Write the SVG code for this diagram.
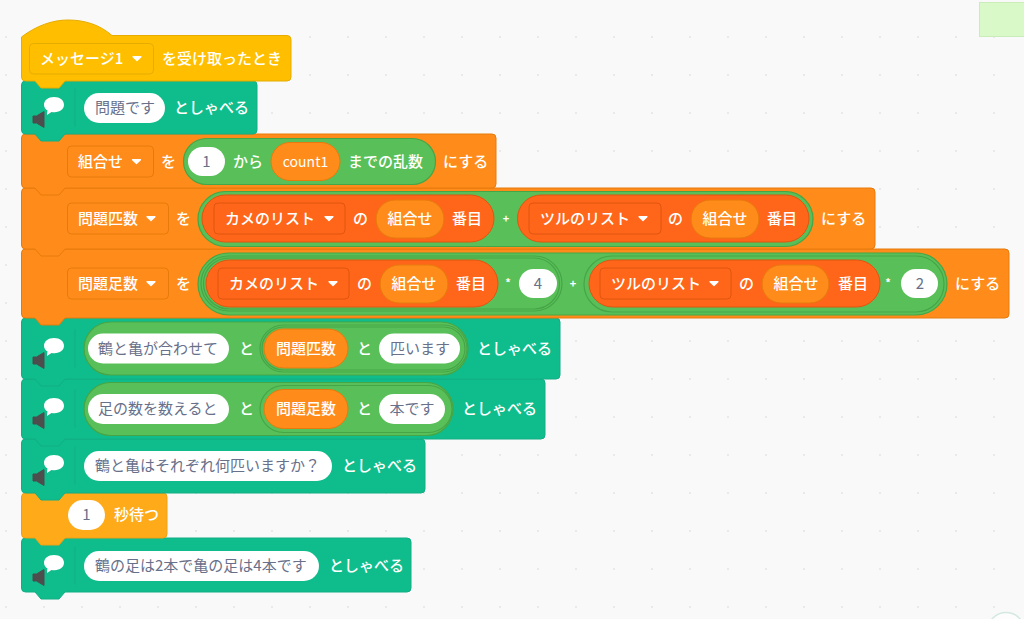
<svg xmlns="http://www.w3.org/2000/svg" width="1024" height="619" viewBox="0 0 1024 619">
<style>
text{font-family:"Noto Sans CJK JP","Noto Sans",sans-serif;font-size:15px;font-weight:500;fill:#fff}
text.g{fill:#68708a;font-weight:400}
text.m{text-anchor:middle}
text.s{font-size:11px;font-weight:700}
.pill{fill:#fff}
.hat{fill:#ffbf00;stroke:#e6ac00}
.say{fill:#0fbd8c;stroke:#12ad84}
.set{fill:#ff8c1a;stroke:#e67a0c}
.wait{fill:#ffab19;stroke:#eda016}
.dh{fill:#ffbf00;stroke:#e6ac00}
.ds{fill:#ff8c1a;stroke:#e67a0c}
.dl{fill:#ff661a;stroke:#e0550f}
.op{fill:#59c059;stroke:#46a546;stroke-width:1.2}
.lst{fill:#ff661a;stroke:#e0550f}
.var{fill:#ff8c1a;stroke:#e67a0c}
.sep{stroke:#12ad84;stroke-width:1}
</style>
<defs>
<pattern id="dots" x="0" y="0" width="38" height="38" patternUnits="userSpaceOnUse"><circle cx="6" cy="37" r="1" fill="#e4e4e4"/></pattern>
<path id="arr" d="M-4-1.800H4L0 2Z" fill="#fff" stroke="#fff" stroke-width="1.200" stroke-linejoin="round"/>
<g id="icon">
<path d="M33 116h3.500l7.500-4.500v16l-7.500-4.500h-3.500z" fill="#4d4d4d" stroke="#4d4d4d" stroke-width="1" stroke-linejoin="round"/>
<path d="M54 97c6 0 10 3.200 10 7.800c0 4.400-4 7.400-9.500 7.400c-1 0-2 0-3 -.2l-4.500 3c0 -2 .3 -3.200 .6 -4.400c-2.300 -1.400 -3.600 -3.500 -3.600 -5.800c0 -4.600 4.200 -7.800 10 -7.800z" fill="#fff"/>
<path d="M75 88.500v38" class="sep"/>
</g>
</defs>
<rect width="1024" height="619" fill="#f9f9f9"/>
<rect width="1024" height="619" fill="url(#dots)"/>
<rect x="979.500" y="2.500" width="46" height="34" fill="#d9fac8" stroke="#c9ecb8"/>
<circle cx="1006" cy="631" r="18.500" fill="#fdfdfd" stroke="#d3e8e2" stroke-width="1.500"/>

<g id="block-say-5">
<path class="say" d="M21.500 542Q21.500 538 25.500 538H407Q411 538 411 542V588Q411 592 407 592H65l-6 7H41l-6-7H25.500Q21.500 592 21.500 588Z"/>
<use href="#icon" y="458"/>
<rect class="pill" x="84" y="551" width="235" height="30" rx="15"/>
<text class="g" x="95" y="570.500">鶴の足は2本で亀の足は4本です</text>
<text x="329" y="570.500">としゃべる</text>
</g>

<g id="block-wait">
<path class="wait" d="M21.500 497Q21.500 493 25.500 493H163Q167 493 167 497V534Q167 538 163 538H65l-6 7H41l-6-7H25.500Q21.500 538 21.500 534Z"/>
<rect class="pill" x="68" y="500" width="37" height="30" rx="15"/>
<text class="g m" x="86.500" y="520">1</text>
<text x="114" y="520">秒待つ</text>
</g>

<g id="block-say-4">
<path class="say" d="M21.500 443Q21.500 439 25.500 439H421Q425 439 425 443V489Q425 493 421 493H65l-6 7H41l-6-7H25.500Q21.500 493 21.500 489Z"/>
<use href="#icon" y="358"/>
<rect class="pill" x="84" y="451" width="248" height="30" rx="15"/>
<text class="g" x="95" y="470.500">鶴と亀はそれぞれ何匹いますか？</text>
<text x="342" y="470.500">としゃべる</text>
</g>

<g id="block-say-3">
<path class="say" d="M21.500 383Q21.500 379 25.500 379H541Q545 379 545 383V435Q545 439 541 439H65l-6 7H41l-6-7H25.500Q21.500 439 21.500 435Z"/>
<use href="#icon" y="301"/>
<rect class="op" x="84" y="382.500" width="369" height="53" rx="26.500"/>
<rect class="pill" x="88" y="394" width="141" height="30" rx="15"/>
<text class="g" x="98" y="413.500">足の数を数えると</text>
<text x="239" y="413.500">と</text>
<rect class="op" x="260" y="385.500" width="192" height="47" rx="23.500"/>
<rect class="var" x="264" y="389.500" width="84" height="39" rx="19.500"/>
<text class="m" x="306" y="413.500">問題足数</text>
<text x="357" y="413.500">と</text>
<rect class="pill" x="379" y="394" width="66" height="30" rx="15"/>
<text class="g m" x="412" y="413.500">本です</text>
<text x="462" y="413.500">としゃべる</text>
</g>

<g id="block-say-2">
<path class="say" d="M21.500 322Q21.500 318 25.500 318H556Q560 318 560 322V375Q560 379 556 379H65l-6 7H41l-6-7H25.500Q21.500 379 21.500 375Z"/>
<use href="#icon" y="241"/>
<rect class="op" x="84" y="322" width="384" height="53" rx="26.500"/>
<rect class="pill" x="88" y="333.500" width="141" height="30" rx="15"/>
<text class="g" x="98" y="353.500">鶴と亀が合わせて</text>
<text x="239" y="353.500">と</text>
<rect class="op" x="260" y="325" width="207" height="47" rx="23.500"/>
<rect class="op" x="262" y="327" width="203" height="43" rx="21.500"/>
<rect class="var" x="264" y="329" width="84" height="39" rx="19.500"/>
<text class="m" x="306" y="353.500">問題匹数</text>
<text x="357" y="353.500">と</text>
<rect class="pill" x="379" y="333.500" width="81" height="30" rx="15"/>
<text class="g" x="390" y="353.500">匹います</text>
<text x="477" y="353.500">としゃべる</text>
</g>

<g id="block-set-3">
<path class="set" d="M21.500 253Q21.500 249 25.500 249H1005Q1009 249 1009 253V314Q1009 318 1005 318H65l-6 7H41l-6-7H25.500Q21.500 318 21.500 314Z"/>
<rect class="ds" x="67.500" y="268" width="101" height="31" rx="4"/>
<text x="78" y="288.500">問題足数</text>
<use href="#arr" x="151" y="283.500"/>
<text x="176" y="288.500">を</text>
<rect class="op" x="198" y="253" width="749" height="62" rx="31"/>
<rect class="op" x="201" y="256" width="361" height="55" rx="27.500"/>
<rect class="op" x="203.500" y="258" width="356" height="51" rx="25.500"/>
<rect class="lst" x="206" y="260" width="292" height="47" rx="23.500"/>
<rect class="dl" x="218" y="268" width="131" height="31" rx="4"/>
<text x="229" y="288.500">カメのリスト</text>
<use href="#arr" x="333" y="283.500"/>
<text x="357" y="288.500">の</text>
<rect class="var" x="380" y="265" width="68" height="38" rx="19"/>
<text class="m" x="414" y="288.500">組合せ</text>
<text x="456" y="288.500">番目</text>
<text class="s m" x="508" y="287">*</text>
<rect class="pill" x="519" y="269" width="38" height="29" rx="14.500"/>
<text class="g m" x="538" y="288.500">4</text>
<text class="s m" x="573" y="288">+</text>
<rect class="op" x="584" y="256" width="360" height="56" rx="28"/>
<rect class="lst" x="589" y="260" width="291" height="47" rx="23.500"/>
<rect class="dl" x="600" y="268" width="131" height="31" rx="4"/>
<text x="611" y="288.500">ツルのリスト</text>
<use href="#arr" x="714" y="283.500"/>
<text x="739" y="288.500">の</text>
<rect class="var" x="762" y="265" width="67" height="38" rx="19"/>
<text class="m" x="796" y="288.500">組合せ</text>
<text x="838" y="288.500">番目</text>
<text class="s m" x="888" y="287">*</text>
<rect class="pill" x="901" y="269" width="37" height="29" rx="14.500"/>
<text class="g m" x="920" y="288.500">2</text>
<text x="955" y="288.500">にする</text>
</g>

<g id="block-set-2">
<path class="set" d="M21.500 192Q21.500 188 25.500 188H871Q875 188 875 192V245Q875 249 871 249H65l-6 7H41l-6-7H25.500Q21.500 249 21.500 245Z"/>
<rect class="ds" x="67.500" y="203" width="101" height="31" rx="4"/>
<text x="78" y="223.500">問題匹数</text>
<use href="#arr" x="151" y="218.500"/>
<text x="176" y="223.500">を</text>
<rect class="op" x="198" y="191.500" width="615" height="55" rx="27.500"/>
<rect class="lst" x="202" y="195" width="292" height="47" rx="23.500"/>
<rect class="dl" x="214" y="203" width="131" height="31" rx="4"/>
<text x="225" y="223.500">カメのリスト</text>
<use href="#arr" x="329" y="218.500"/>
<text x="353" y="223.500">の</text>
<rect class="var" x="376" y="200" width="68" height="38" rx="19"/>
<text class="m" x="410" y="223.500">組合せ</text>
<text x="452" y="223.500">番目</text>
<text class="s m" x="506" y="223">+</text>
<rect class="lst" x="517.500" y="195" width="291.500" height="47" rx="23.500"/>
<rect class="dl" x="529" y="203" width="132" height="31" rx="4"/>
<text x="540" y="223.500">ツルのリスト</text>
<use href="#arr" x="643" y="218.500"/>
<text x="668" y="223.500">の</text>
<rect class="var" x="691" y="200" width="68" height="38" rx="19"/>
<text class="m" x="725" y="223.500">組合せ</text>
<text x="767" y="223.500">番目</text>
<text x="821" y="223.500">にする</text>
</g>

<g id="block-set-1">
<path class="set" d="M21.500 138Q21.500 134 25.500 134H492Q496 134 496 138V184Q496 188 492 188H65l-6 7H41l-6-7H25.500Q21.500 188 21.500 184Z"/>
<rect class="ds" x="67.500" y="146" width="86" height="31" rx="4"/>
<text x="78" y="166.500">組合せ</text>
<use href="#arr" x="136.500" y="161.500"/>
<text x="161" y="166.500">を</text>
<rect class="op" x="183.500" y="138.500" width="252" height="46" rx="23"/>
<rect class="pill" x="188" y="147" width="37" height="29" rx="14.500"/>
<text class="g m" x="206.500" y="166.500">1</text>
<text x="233" y="166.500">から</text>
<rect class="var" x="271" y="142.500" width="69" height="38" rx="19"/>
<text class="m" x="305.500" y="166.500" style="font-size:14px;font-weight:400">count1</text>
<text x="348" y="166.500">までの乱数</text>
<text x="443" y="166.500">にする</text>
</g>

<g id="block-say-1">
<path class="say" d="M21.500 85Q21.500 81 25.500 81H253Q257 81 257 85V130Q257 134 253 134H65l-6 7H41l-6-7H25.500Q21.500 134 21.500 130Z"/>
<use href="#icon"/>
<rect class="pill" x="84" y="93" width="81" height="30" rx="15"/>
<text class="g" x="95" y="112.500">問題です</text>
<text x="174" y="112.500">としゃべる</text>
</g>

<g id="block-hat">
<path class="hat" d="M21.500 37C36 26 52 20 68 20C85 20 100 25 112 35.500H287Q291 35.500 291 39.500V77Q291 81 287 81H65l-6 7H41l-6-7H25.500Q21.500 81 21.500 77Z"/>
<rect class="dh" x="29.500" y="43.500" width="124" height="30.500" rx="4"/>
<text x="40" y="63.500">メッセージ1</text>
<use href="#arr" x="137" y="58.500"/>
<text x="162" y="63.500">を受け取ったとき</text>
</g>
</svg>
